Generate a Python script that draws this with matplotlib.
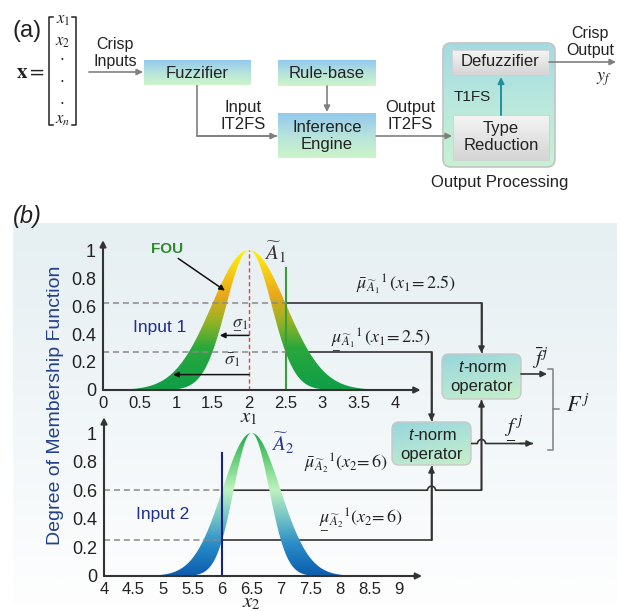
import numpy as np
import matplotlib
matplotlib.use('Agg')
import matplotlib.pyplot as plt
from matplotlib.patches import FancyBboxPatch, Rectangle, Polygon
from matplotlib.colors import LinearSegmentedColormap

plt.rcParams['font.family'] = ['Liberation Sans', 'DejaVu Sans']
plt.rcParams['mathtext.fontset'] = 'stix'

# ---------------- data ----------------
x1_ticks = [0, 0.5, 1, 1.5, 2, 2.5, 3, 3.5, 4]
x2_ticks = [4, 4.5, 5, 5.5, 6, 6.5, 7, 7.5, 8, 8.5, 9]
mu_ticks = [0, 0.2, 0.4, 0.6, 0.8, 1]

center1 = 2.0
sigma1_upper = 0.51
sigma1_lower = 0.31
input1 = 2.5
mu1_upper = 0.62
mu1_lower = 0.27

center2 = 6.5
sigma2_upper = 0.49
sigma2_lower = 0.30
input2 = 6.0
mu2_upper = 0.60
mu2_lower = 0.25

sigma_lower_arrow = (1.60, 0.39)   # arrow tip (x, y) for lower sigma
sigma_upper_arrow = (0.96, 0.11)   # arrow tip (x, y) for upper sigma

W, H = 622, 611
fig = plt.figure(figsize=(W / 100, H / 100), dpi=100)
ov = fig.add_axes([0, 0, 1, 1], zorder=0)
ov.set_xlim(0, W)
ov.set_ylim(H, 0)
ov.axis('off')

TXT = '#222222'
GRAY = '#7f7f7f'
DARK = '#333333'
NAVY = '#1f2f8f'


def grad_rect(x0, y0, w, h, colors, rounding=0, edge='none', lw=0.8, diag=False, z=2):
    if rounding > 0:
        patch = FancyBboxPatch((x0, y0), w, h, boxstyle=f'round,pad=0,rounding_size={rounding}',
                               fc='none', ec=edge, lw=lw, zorder=z + 0.1)
    else:
        patch = Rectangle((x0, y0), w, h, fc='none', ec=edge, lw=lw, zorder=z + 0.1)
    ov.add_patch(patch)
    cmap = LinearSegmentedColormap.from_list('g', colors)
    if diag:
        yy, xx = np.mgrid[0:1:64j, 0:1:64j]
        arr = yy * 0.7 + xx * 0.3
    else:
        arr = np.linspace(0, 1, 64).reshape(-1, 1)
    im = ov.imshow(arr, cmap=cmap, extent=(x0, x0 + w, y0 + h, y0), origin='upper',
                   aspect='auto', zorder=z, vmin=0, vmax=1, interpolation='bilinear')
    im.set_clip_path(patch)


def arrow(ax, p0, p1, color, lw=1.2, ms=9, z=5):
    ax.annotate('', xy=p1, xytext=p0, zorder=z,
                arrowprops=dict(arrowstyle='-|>', color=color, lw=lw, mutation_scale=ms,
                                shrinkA=0, shrinkB=0), annotation_clip=False)


def poly_arrow(xs, ys, color, lw=1.2, ms=9):
    ov.plot(xs, ys, color=color, lw=lw, zorder=5, solid_capstyle='butt')
    arrow(ov, (xs[-2], ys[-2]), (xs[-1], ys[-1]), color, lw, ms)


def hline_hops(xa, xb, y, hops, r=4):
    xs, ys = [xa], [y]
    for c in sorted(hops):
        t = np.linspace(np.pi, 0, 15)
        xs += list(c + r * np.cos(t))
        ys += list(y - r * np.sin(t))
    xs.append(xb)
    ys.append(y)
    return xs, ys


# ---------------- (a) block diagram ----------------
ov.text(27, 31, '(a)', fontsize=17, ha='center', va='center', color=TXT)
ov.text(30, 72, r'$\mathbf{x} =$', fontsize=15, ha='center', va='center', color=TXT)
# matrix brackets
ov.plot([53, 49, 49, 53], [17, 17, 125, 125], color=TXT, lw=1.1)
ov.plot([72, 76, 76, 72], [17, 17, 125, 125], color=TXT, lw=1.1)
ov.text(63, 20, r'$x_1$', fontsize=12, ha='center', va='center', color=TXT)
ov.text(63, 42, r'$x_2$', fontsize=12, ha='center', va='center', color=TXT)
for yd in (56, 78, 100):
    ov.text(62, yd, r'$\cdot$', fontsize=12, ha='center', va='center', color=TXT)
ov.text(63, 120, r'$x_n$', fontsize=12, ha='center', va='center', color=TXT)

blue_green = ['#93c9ec', '#b6e3dc', '#cdf4c9']
ov.text(115, 53, 'Crisp\nInputs', fontsize=11.5, ha='center', va='center', color=TXT, linespacing=1.2)
arrow(ov, (89, 72), (143, 72), GRAY)
grad_rect(144, 60, 107, 25, blue_green)
ov.text(197, 73, 'Fuzzifier', fontsize=12, ha='center', va='center', color=TXT)
grad_rect(278, 60, 98, 26, blue_green)
ov.text(327, 73, 'Rule-base', fontsize=12, ha='center', va='center', color=TXT)
arrow(ov, (327, 86), (327, 112), GRAY)
grad_rect(278, 113, 98, 45, blue_green)
ov.text(327, 136, 'Inference\nEngine', fontsize=12, ha='center', va='center', color=TXT, linespacing=1.2)
poly_arrow([197, 197, 277], [85, 136, 136], GRAY)
ov.text(243, 116, 'Input\nIT2FS', fontsize=12, ha='center', va='center', color=TXT, linespacing=1.15)
arrow(ov, (376, 136), (452, 136), GRAY)
ov.text(410, 116, 'Output\nIT2FS', fontsize=12, ha='center', va='center', color=TXT, linespacing=1.15)

grad_rect(443, 43, 112, 124, ['#a4dbe2', '#b9e8dc', '#c8f1d2'], rounding=8, edge='#c4c4c4', lw=1.2)
grad_rect(452, 50, 97, 25, ['#f4f4f4', '#d5d5d5'], edge='#d0d0d0', lw=0.6, z=3)
ov.text(500, 62, 'Defuzzifier', fontsize=12, ha='center', va='center', color=TXT)
grad_rect(453, 115, 96, 45, ['#f4f4f4', '#d5d5d5'], edge='#d0d0d0', lw=0.6, z=3)
ov.text(501, 137, 'Type\nReduction', fontsize=12, ha='center', va='center', color=TXT, linespacing=1.2)
arrow(ov, (501, 115), (501, 77), '#1f8f9f', lw=1.4)
ov.text(472, 97, 'T1FS', fontsize=11, ha='center', va='center', color=TXT)
ov.text(500, 183, 'Output Processing', fontsize=12, ha='center', va='center', color=TXT)
arrow(ov, (549, 62), (616, 62), GRAY)
ov.text(590, 42, 'Crisp\nOutput', fontsize=11.5, ha='center', va='center', color=TXT, linespacing=1.2)
ov.text(604, 79, r'$y_f$', fontsize=13, ha='center', va='center', color=TXT)

# ---------------- (b) background ----------------
grad_rect(13, 223, 604, 382, ['#e6eff2', '#f1f6f8', '#fefefe'], z=0.5)
ov.text(27, 217, '(b)', fontsize=17, ha='center', va='center', color=TXT, style='italic')
ov.text(56, 405, 'Degree of Membership Function', fontsize=14, rotation=90,
        ha='center', va='center', color='#23408e')

# ---------------- membership function axes ----------------
def px_axes(left_px, right_px, bottom_px, top_px):
    return fig.add_axes([left_px / W, 1 - bottom_px / H, (right_px - left_px) / W,
                         (bottom_px - top_px) / H], zorder=1)


def gauss(x, c, s):
    return np.exp(-(x - c) ** 2 / (2 * s ** 2))


def setup_axes(ax, xlim, ylim, xticks, xarrow, yarrow):
    ax.set_xlim(*xlim)
    ax.set_ylim(*ylim)
    ax.set_facecolor('none')
    for s in ax.spines.values():
        s.set_visible(False)
    ax.set_xticks(xticks)
    ax.set_xticklabels([f'{v:g}' for v in xticks])
    ax.set_yticks(mu_ticks)
    ax.set_yticklabels([f'{v:g}' for v in mu_ticks])
    ax.tick_params(axis='x', length=0, pad=4, labelsize=12, labelcolor=TXT)
    ax.tick_params(axis='y', length=0, pad=5, labelsize=13, labelcolor=TXT)
    arrow(ax, (xlim[0], 0), (xarrow, 0), DARK, lw=1.5, ms=9)
    arrow(ax, (xlim[0], 0), (xlim[0], yarrow), DARK, lw=1.5, ms=9)


def gradient_band(ax, c, su, sl, cmap, span):
    x = np.linspace(c - span, c + span, 400)
    hi = gauss(x, c, su)
    lo = gauss(x, c, sl)
    verts = np.concatenate([np.column_stack([x, hi]), np.column_stack([x[::-1], lo[::-1]])])
    poly = Polygon(verts, closed=True, fc='none', ec='none')
    ax.add_patch(poly)
    grad = np.linspace(1, 0, 256).reshape(-1, 1)
    im = ax.imshow(grad, cmap=cmap, aspect='auto', extent=(x.min(), x.max(), 0, 1),
                   origin='upper', vmin=0, vmax=1, zorder=2, interpolation='bilinear')
    im.set_clip_path(poly)


ax1 = px_axes(103, 431.5, 390, 233.2)
setup_axes(ax1, (0, 4.5), (0, 1.12), x1_ticks, 4.35, 1.07)
ax2 = px_axes(104, 431.45, 576, 415.84)
setup_axes(ax2, (4, 9.55), (0, 1.12), x2_ticks, 9.39, 1.11)

cmap1 = LinearSegmentedColormap.from_list('fou1', [
    (0.0, '#0f9e48'), (0.3, '#2aa83c'), (0.5, '#9bb324'), (0.68, '#e9a81c'),
    (0.85, '#f5cf16'), (1.0, '#fff200')])
cmap2 = LinearSegmentedColormap.from_list('fou2', [
    (0.0, '#0b5cae'), (0.22, '#2a8cc8'), (0.42, '#79c7c6'), (0.6, '#bff2bf'),
    (0.8, '#6bd27c'), (1.0, '#1fa84a')])
gradient_band(ax1, center1, sigma1_upper, sigma1_lower, cmap1, 1.8)
gradient_band(ax2, center2, sigma2_upper, sigma2_lower, cmap2, 1.8)
ax1.set_xlim(0, 4.5); ax1.set_ylim(0, 1.12)
ax2.set_xlim(4, 9.55); ax2.set_ylim(0, 1.12)

# top plot annotations
ax1.plot([center1, center1], [0, 1], color='#e8403a', lw=1.0, ls=(0, (3, 2)), zorder=3)
ax1.plot([input1, input1], [0, 0.87], color='#3c9c3c', lw=1.5, zorder=3)
for m in (mu1_upper, mu1_lower):
    ax1.plot([0, input1], [m, m], color='#8a8a8a', lw=1.1, ls=(0, (4, 2.5)), zorder=3)
ax1.text(0.88, 1.01, 'FOU', fontsize=11, fontweight='bold', color='#2e8b2e', ha='center', va='center')
arrow(ax1, (1.03, 0.94), (1.67, 0.71), '#111111', lw=1.1, ms=8)
ax1.text(2.36, 0.985, r'$\widetilde{A}_1$', fontsize=15, color=DARK, ha='center', va='center')
ax1.text(0.78, 0.45, 'Input 1', fontsize=12.5, color=NAVY, ha='center', va='center')
arrow(ax1, (center1, sigma_lower_arrow[1]), sigma_lower_arrow, '#111111', lw=1.1, ms=8)
arrow(ax1, (center1, sigma_upper_arrow[1]), sigma_upper_arrow, '#111111', lw=1.1, ms=8)
ax1.text(1.88, 0.48, r'$\underset{-}{\sigma}_1$', fontsize=13, color=DARK, ha='center', va='center')
ax1.text(1.77, 0.21, r'$\bar{\sigma}_1$', fontsize=13, color=DARK, ha='center', va='center')
ax1.text(2.0, -0.195, r'$x_1$', fontsize=15, color=TXT, ha='center', va='center')

# bottom plot annotations
ax2.plot([input2, input2], [0, 0.86], color='#1a237e', lw=1.5, zorder=3)
for m in (mu2_upper, mu2_lower):
    ax2.plot([4, input2], [m, m], color='#8a8a8a', lw=1.1, ls=(0, (4, 2.5)), zorder=3)
ax2.text(7.03, 0.93, r'$\widetilde{A}_2$', fontsize=15, color='#2b3590', ha='center', va='center')
ax2.text(5.0, 0.43, 'Input 2', fontsize=12.5, color=NAVY, ha='center', va='center')
ax2.text(6.5, -0.185, r'$x_2$', fontsize=15, color=TXT, ha='center', va='center')


def to_px(ax, x, y):
    return ov.transData.inverted().transform(ax.transData.transform((x, y)))


# ---------------- connectors and t-norm operators ----------------
ub = (442, 354, 79, 45)   # upper t-norm box
lb = (392, 422, 79, 43)   # lower t-norm box
ucx = ub[0] + ub[2] / 2
lcx = lb[0] + lb[2] / 2
tn_colors = ['#97d6dc', '#b0e3d6', '#c6f0c8']
grad_rect(*ub, tn_colors, rounding=7, edge='#c8c8c8', lw=1.0, diag=True, z=3)
grad_rect(*lb, tn_colors, rounding=7, edge='#c8c8c8', lw=1.0, diag=True, z=3)
for cx, ty in ((ucx, ub[1]), (lcx, lb[1])):
    ov.text(cx - 18.5, ty + 13, 't', fontsize=12, style='italic', ha='right', va='center', color=TXT)
    ov.text(cx - 18.5, ty + 13, '-norm', fontsize=12, ha='left', va='center', color=TXT)
    ov.text(cx, ty + 33, 'operator', fontsize=12, ha='center', va='center', color=TXT)

p = to_px(ax1, input1, mu1_upper)
poly_arrow([p[0], ucx, ucx], [p[1], p[1], ub[1] - 1], DARK)
p = to_px(ax1, input1, mu1_lower)
poly_arrow([p[0], lcx, lcx], [p[1], p[1], lb[1] - 1], DARK)
q = to_px(ax2, input2, mu2_upper)
xs, ys = hline_hops(q[0], ucx, q[1], [lcx])
poly_arrow(xs + [ucx], ys + [ub[1] + ub[3] + 1], DARK)
q = to_px(ax2, input2, mu2_lower)
poly_arrow([q[0], lcx, lcx], [q[1], q[1], lb[1] + lb[3] + 1], DARK)

yl = lb[1] + lb[3] / 2
xs, ys = hline_hops(lb[0] + lb[2], 520, yl, [ucx])
poly_arrow(xs + [533], ys + [yl], DARK)
yu = ub[1] + 20
arrow(ov, (ub[0] + ub[2], yu), (547, yu), DARK)

ov.text(541, 358, r'$\bar{f}^{\,j}$', fontsize=15, ha='center', va='center', color=TXT)
ov.text(514, 428, r'$\underset{-}{f}^{\,j}$', fontsize=15, ha='center', va='center', color=TXT)
ov.plot([548, 553, 553, 548], [369, 369, 450, 450], color=GRAY, lw=1.1)
ov.plot([553, 559], [409, 409], color=GRAY, lw=1.1)
ov.text(578, 406, r'$F^{\,j}$', fontsize=16, ha='center', va='center', color=TXT)

# mu labels
ov.text(356, 290, r'$\bar{\mu}_{\widetilde{A}_1}{}^{1}\,(x_1\!=2.5)$', fontsize=13, ha='left', va='baseline', color=TXT)
ov.text(331, 340, r'$\underset{-}{\mu}_{\widetilde{A}_1}{}^{1}\,(x_1\!=2.5)$', fontsize=13, ha='left', va='baseline', color=TXT)
ov.text(304, 469, r'$\bar{\mu}_{\widetilde{A}_2}{}^{1}(x_2\!=6)$', fontsize=13, ha='left', va='baseline', color=TXT)
ov.text(319, 520, r'$\underset{-}{\mu}_{\widetilde{A}_2}{}^{1}(x_2\!=6)$', fontsize=13, ha='left', va='baseline', color=TXT)

ov.set_xlim(0, W)
ov.set_ylim(H, 0)
fig.savefig('out.png', dpi=100)
